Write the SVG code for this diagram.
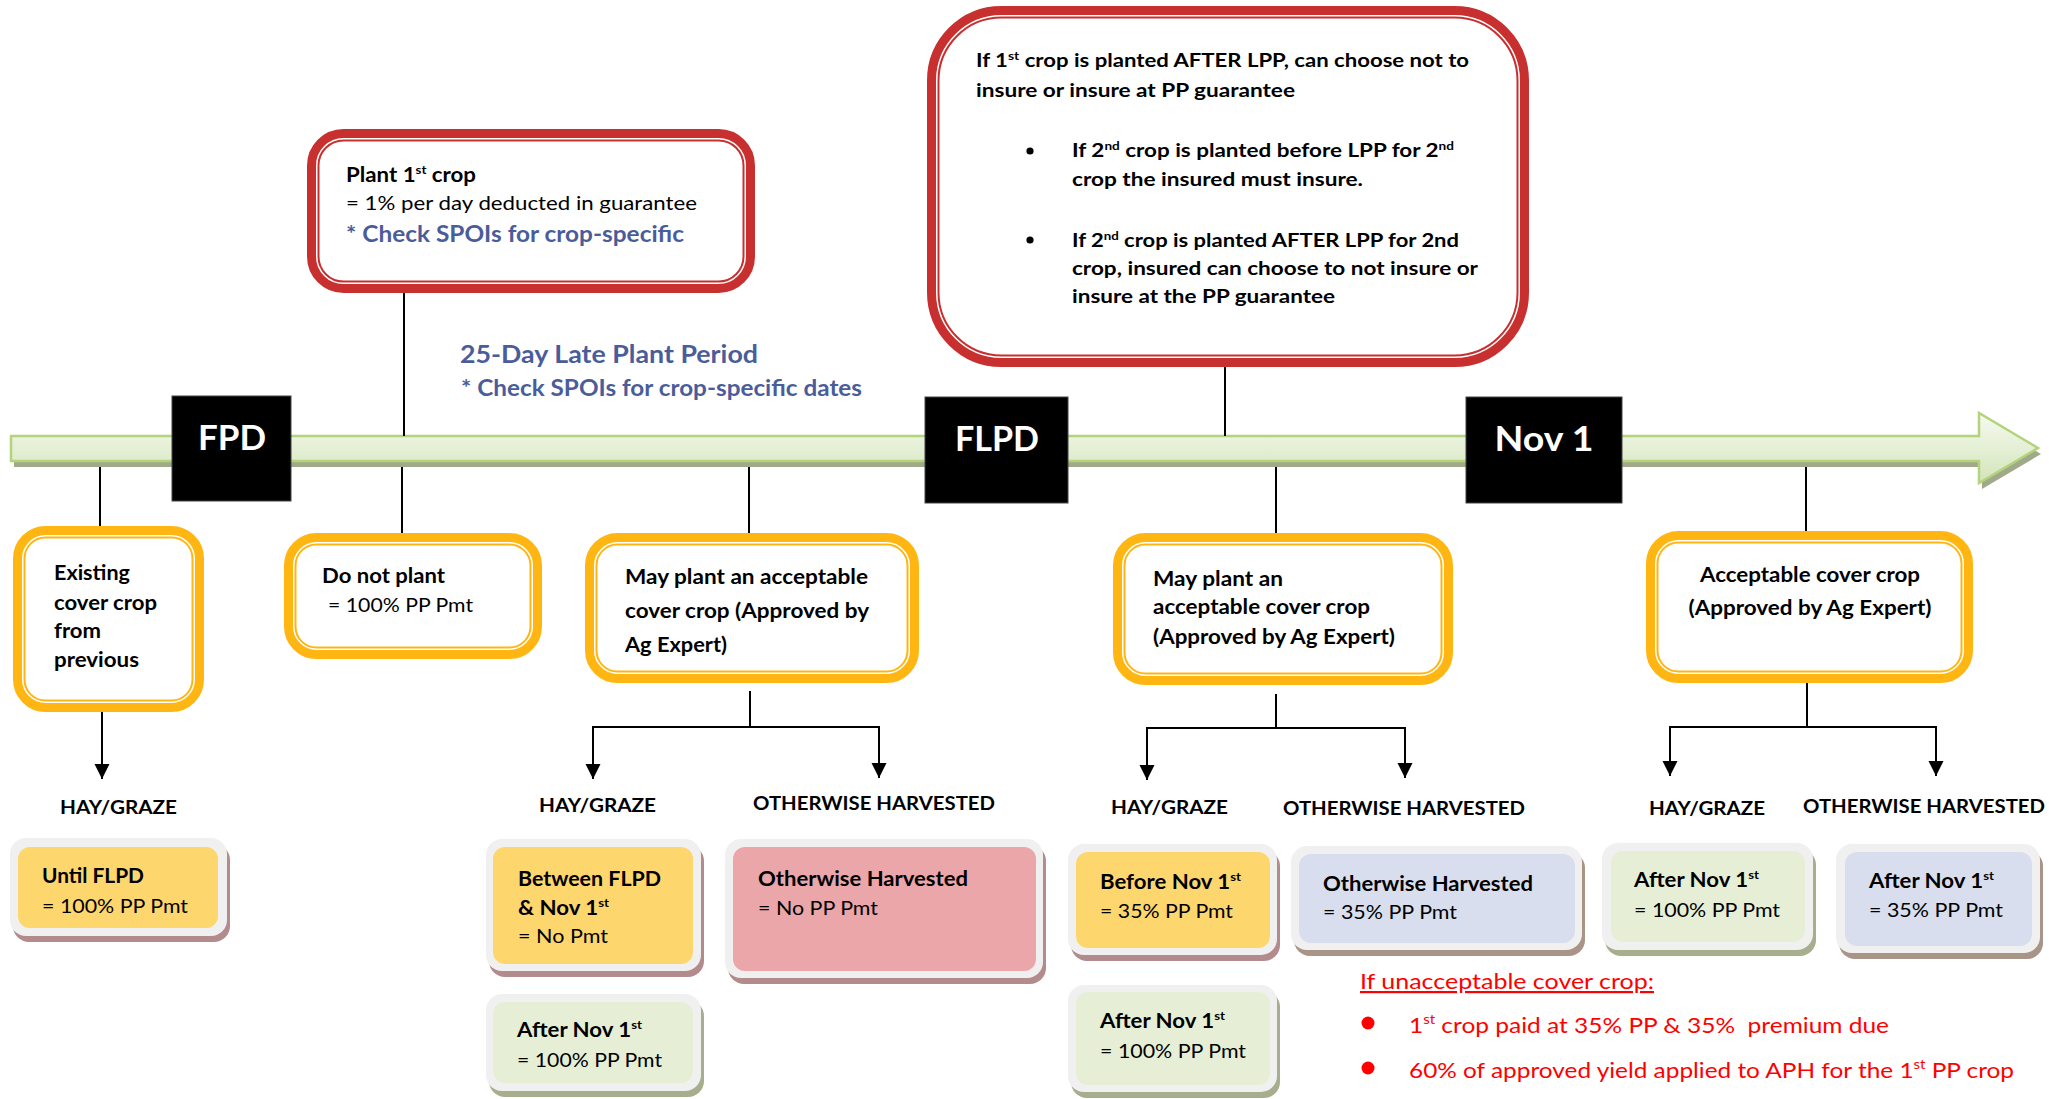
<svg xmlns="http://www.w3.org/2000/svg" width="2049" height="1099" viewBox="0 0 2049 1099">
<style>
text{font-family:Lato,"Open Sans","Liberation Sans",sans-serif;}
.tb{font-weight:700;font-size:20px;fill:#000;}
.tr{font-weight:400;font-size:20px;fill:#000;}
.rb{font-weight:700;font-size:19px;fill:#000;}
.bl{font-weight:700;fill:#4A5D9A;}
.lbl{font-weight:700;font-size:19.5px;fill:#000;}
.rd{font-weight:400;font-size:22px;fill:#FF0000;}
.date{font-weight:700;font-size:35px;fill:#fff;}
.sp{font-size:12px;}
.ob{fill:#fff;stroke:#FFB612;stroke-width:9;}
.oi{fill:none;stroke:#FFB612;stroke-width:2;}
.rb1{fill:#fff;stroke:#C8302F;stroke-width:9;}
.ri{fill:none;stroke:#C8302F;stroke-width:2;}
.frame{fill:#F0F0F0;}
.yel{fill:#FED66E;}
.grn{fill:#E6EFD5;}
.pnk{fill:#EAA6A8;}
.blu{fill:#D9DEEE;}
.shy{fill:#B48B8C;}
.shg{fill:#A7AE8E;}
.shb{fill:#A99588;}
.ln{stroke:#000;stroke-width:2;fill:none;}
.dbox{fill:#000;stroke:#444;stroke-width:1;}
</style>
<defs>
<linearGradient id="tg" gradientUnits="userSpaceOnUse" x1="0" y1="413" x2="0" y2="483">
<stop offset="0" stop-color="#F6FAF0"/>
<stop offset="1" stop-color="#D3E4BA"/>
</linearGradient>
<marker id="ah" viewBox="0 0 10 10" refX="10" refY="5" markerWidth="15" markerHeight="16" markerUnits="userSpaceOnUse" orient="auto">
<path d="M0,0 L10,5 L0,10 Z" fill="#000"/>
</marker>
</defs>

<g id="timeline">
<path d="M11,436 H1979 V413 L2038,448 L1979,483 V461 H11 Z" fill="#A0A98A" transform="translate(3,6)"/>
<path d="M11,436 H1979 V413 L2038,448 L1979,483 V461 H11 Z" fill="url(#tg)" stroke="#B3D47A" stroke-width="2.5"/>
</g>

<g id="connectors">
<line class="ln" x1="100" y1="467" x2="100" y2="526"/>
<line class="ln" x1="102" y1="712" x2="102" y2="779" marker-end="url(#ah)"/>
<line class="ln" x1="404" y1="293" x2="404" y2="436"/>
<line class="ln" x1="402" y1="467" x2="402" y2="533"/>
<line class="ln" x1="749" y1="467" x2="749" y2="533"/>
<path class="ln" d="M750,691 V727 M592,727 H880"/>
<line class="ln" x1="593" y1="727" x2="593" y2="779" marker-end="url(#ah)"/>
<line class="ln" x1="879" y1="727" x2="879" y2="778" marker-end="url(#ah)"/>
<line class="ln" x1="1225" y1="367" x2="1225" y2="436"/>
<line class="ln" x1="1276" y1="467" x2="1276" y2="533"/>
<path class="ln" d="M1276,694 V728 M1146,728 H1406"/>
<line class="ln" x1="1147" y1="728" x2="1147" y2="780" marker-end="url(#ah)"/>
<line class="ln" x1="1405" y1="728" x2="1405" y2="778" marker-end="url(#ah)"/>
<line class="ln" x1="1806" y1="467" x2="1806" y2="531"/>
<path class="ln" d="M1807,683 V727 M1669,727 H1937"/>
<line class="ln" x1="1670" y1="727" x2="1670" y2="776" marker-end="url(#ah)"/>
<line class="ln" x1="1936" y1="727" x2="1936" y2="776" marker-end="url(#ah)"/>
</g>

<g id="fpd">
<rect class="dbox" x="172" y="396" width="119" height="105"/>
<text class="date" x="232" y="450" text-anchor="middle" textLength="68" lengthAdjust="spacingAndGlyphs">FPD</text>
</g>
<g id="flpd">
<rect class="dbox" x="925" y="397" width="143" height="106"/>
<text class="date" x="997" y="451" text-anchor="middle" textLength="84" lengthAdjust="spacingAndGlyphs">FLPD</text>
</g>
<g id="nov1">
<rect class="dbox" x="1466" y="397" width="156" height="106"/>
<text class="date" x="1544" y="451" text-anchor="middle" textLength="99" lengthAdjust="spacingAndGlyphs">Nov 1</text>
</g>

<g id="plant-first">
<rect class="rb1" x="311.5" y="133.5" width="439" height="155" rx="32"/>
<rect class="ri" x="318.5" y="140.5" width="425" height="141" rx="25"/>
<text class="tb" x="346" y="182" textLength="130" lengthAdjust="spacingAndGlyphs">Plant 1<tspan class="sp" dy="-8">st</tspan><tspan dy="8"> crop</tspan></text>
<text class="tr" x="346" y="210" textLength="351" lengthAdjust="spacingAndGlyphs">= 1% per day deducted in guarantee</text>
<text class="bl" x="346" y="242" font-size="23.5" textLength="338" lengthAdjust="spacingAndGlyphs">* Check SPOIs for crop-specific</text>
</g>

<g id="late-plant-period">
<text class="bl" x="460" y="363" font-size="25" textLength="298" lengthAdjust="spacingAndGlyphs">25-Day Late Plant Period</text>
<text class="bl" x="461" y="396" font-size="23" textLength="401" lengthAdjust="spacingAndGlyphs">* Check SPOIs for crop-specific dates</text>
</g>

<g id="after-lpp">
<rect class="rb1" x="931.5" y="10.5" width="593" height="352" rx="70"/>
<rect class="ri" x="938.5" y="17.5" width="579" height="338" rx="63"/>
<text class="rb" x="976" y="67" textLength="493" lengthAdjust="spacingAndGlyphs">If 1<tspan class="sp" font-size="11.5" dy="-7">st</tspan><tspan dy="7"> crop is planted AFTER LPP, can choose not to</tspan></text>
<text class="rb" x="976" y="97" textLength="319" lengthAdjust="spacingAndGlyphs">insure or insure at PP guarantee</text>
<circle cx="1030" cy="151" r="3.6" fill="#000"/>
<text class="rb" x="1072" y="157" textLength="382" lengthAdjust="spacingAndGlyphs">If 2<tspan font-size="11.5" dy="-7">nd</tspan><tspan dy="7"> crop is planted before LPP for 2</tspan><tspan font-size="11.5" dy="-7">nd</tspan></text>
<text class="rb" x="1072" y="186" textLength="291" lengthAdjust="spacingAndGlyphs">crop the insured must insure.</text>
<circle cx="1030" cy="240" r="3.6" fill="#000"/>
<text class="rb" x="1072" y="247" textLength="387" lengthAdjust="spacingAndGlyphs">If 2<tspan font-size="11.5" dy="-7">nd</tspan><tspan dy="7"> crop is planted AFTER LPP for 2nd</tspan></text>
<text class="rb" x="1072" y="275" textLength="406" lengthAdjust="spacingAndGlyphs">crop, insured can choose to not insure or</text>
<text class="rb" x="1072" y="303" textLength="263" lengthAdjust="spacingAndGlyphs">insure at the PP guarantee</text>
</g>

<g id="existing">
<rect class="ob" x="17.5" y="530.5" width="182" height="177" rx="28"/>
<rect class="oi" x="24.5" y="537.5" width="168" height="163" rx="21"/>
<text class="tb" x="54" y="580" textLength="76" lengthAdjust="spacingAndGlyphs">Existing</text>
<text class="tb" x="54" y="610" textLength="103" lengthAdjust="spacingAndGlyphs">cover crop</text>
<text class="tb" x="54" y="638" textLength="47" lengthAdjust="spacingAndGlyphs">from</text>
<text class="tb" x="54" y="667" textLength="85" lengthAdjust="spacingAndGlyphs">previous</text>
</g>

<g id="do-not-plant">
<rect class="ob" x="288.5" y="537.5" width="249" height="117" rx="28"/>
<rect class="oi" x="295.5" y="544.5" width="235" height="103" rx="21"/>
<text class="tb" x="322" y="583" textLength="123" lengthAdjust="spacingAndGlyphs">Do not plant</text>
<text class="tr" x="328" y="612" textLength="145" lengthAdjust="spacingAndGlyphs">= 100% PP Pmt</text>
</g>

<g id="may-plant-1">
<rect class="ob" x="589.5" y="537.5" width="325" height="141" rx="28"/>
<rect class="oi" x="596.5" y="544.5" width="311" height="127" rx="21"/>
<text class="tb" x="625" y="584" textLength="243" lengthAdjust="spacingAndGlyphs">May plant an acceptable</text>
<text class="tb" x="625" y="618" textLength="244" lengthAdjust="spacingAndGlyphs">cover crop (Approved by</text>
<text class="tb" x="625" y="652" textLength="102" lengthAdjust="spacingAndGlyphs">Ag Expert)</text>
</g>

<g id="may-plant-2">
<rect class="ob" x="1117.5" y="537.5" width="331" height="143" rx="28"/>
<rect class="oi" x="1124.5" y="544.5" width="317" height="129" rx="21"/>
<text class="tb" x="1153" y="586" textLength="130" lengthAdjust="spacingAndGlyphs">May plant an</text>
<text class="tb" x="1153" y="614" textLength="217" lengthAdjust="spacingAndGlyphs">acceptable cover crop</text>
<text class="tb" x="1153" y="644" textLength="242" lengthAdjust="spacingAndGlyphs">(Approved by Ag Expert)</text>
</g>

<g id="acceptable">
<rect class="ob" x="1650.5" y="535.5" width="318" height="143" rx="28"/>
<rect class="oi" x="1657.5" y="542.5" width="304" height="129" rx="21"/>
<text class="tb" x="1810" y="582" text-anchor="middle" textLength="220" lengthAdjust="spacingAndGlyphs">Acceptable cover crop</text>
<text class="tb" x="1810" y="615" text-anchor="middle" textLength="243" lengthAdjust="spacingAndGlyphs">(Approved by Ag Expert)</text>
</g>

<g id="labels">
<text class="lbl" x="60" y="814" textLength="117" lengthAdjust="spacingAndGlyphs">HAY/GRAZE</text>
<text class="lbl" x="539" y="812" textLength="117" lengthAdjust="spacingAndGlyphs">HAY/GRAZE</text>
<text class="lbl" x="753" y="810" textLength="242" lengthAdjust="spacingAndGlyphs">OTHERWISE HARVESTED</text>
<text class="lbl" x="1111" y="814" textLength="117" lengthAdjust="spacingAndGlyphs">HAY/GRAZE</text>
<text class="lbl" x="1283" y="815" textLength="242" lengthAdjust="spacingAndGlyphs">OTHERWISE HARVESTED</text>
<text class="lbl" x="1649" y="815" textLength="116" lengthAdjust="spacingAndGlyphs">HAY/GRAZE</text>
<text class="lbl" x="1803" y="813" textLength="242" lengthAdjust="spacingAndGlyphs">OTHERWISE HARVESTED</text>
</g>

<g id="until-flpd">
<rect class="shy" x="13" y="844" width="217" height="98" rx="16"/>
<rect class="frame" x="10" y="838" width="217" height="98" rx="16"/>
<rect class="yel" x="18" y="847" width="200" height="81" rx="12"/>
<text class="tb" x="42" y="883" textLength="102" lengthAdjust="spacingAndGlyphs">Until FLPD</text>
<text class="tr" x="42" y="913" textLength="146" lengthAdjust="spacingAndGlyphs">= 100% PP Pmt</text>
</g>

<g id="between-flpd-nov1">
<rect class="shy" x="489" y="845" width="215" height="132" rx="16"/>
<rect class="frame" x="486" y="839" width="215" height="132" rx="16"/>
<rect class="yel" x="493" y="847" width="200" height="117" rx="12"/>
<text class="tb" x="518" y="886" textLength="143" lengthAdjust="spacingAndGlyphs">Between FLPD</text>
<text class="tb" x="518" y="915" textLength="91" lengthAdjust="spacingAndGlyphs">&amp; Nov 1<tspan class="sp" dy="-8">st</tspan></text>
<text class="tr" x="518" y="943" textLength="90" lengthAdjust="spacingAndGlyphs">= No Pmt</text>
</g>

<g id="after-nov1-left">
<rect class="shg" x="489" y="1000" width="215" height="97" rx="16"/>
<rect class="frame" x="486" y="994" width="215" height="97" rx="16"/>
<rect class="grn" x="493" y="1002" width="200" height="81" rx="12"/>
<text class="tb" x="517" y="1037" textLength="125" lengthAdjust="spacingAndGlyphs">After Nov 1<tspan class="sp" dy="-8">st</tspan></text>
<text class="tr" x="517" y="1067" textLength="145" lengthAdjust="spacingAndGlyphs">= 100% PP Pmt</text>
</g>

<g id="otherwise-harvested-no">
<rect class="shy" x="728" y="845" width="318" height="139" rx="16"/>
<rect class="frame" x="725" y="839" width="318" height="139" rx="16"/>
<rect class="pnk" x="733" y="847" width="303" height="124" rx="12"/>
<text class="tb" x="758" y="886" textLength="210" lengthAdjust="spacingAndGlyphs">Otherwise Harvested</text>
<text class="tr" x="758" y="915" textLength="120" lengthAdjust="spacingAndGlyphs">= No PP Pmt</text>
</g>

<g id="before-nov1">
<rect class="shy" x="1071" y="850" width="209" height="111" rx="16"/>
<rect class="frame" x="1068" y="844" width="209" height="111" rx="16"/>
<rect class="yel" x="1076" y="852" width="194" height="96" rx="12"/>
<text class="tb" x="1100" y="889" textLength="141" lengthAdjust="spacingAndGlyphs">Before Nov 1<tspan class="sp" dy="-8">st</tspan></text>
<text class="tr" x="1100" y="918" textLength="133" lengthAdjust="spacingAndGlyphs">= 35% PP Pmt</text>
</g>

<g id="after-nov1-mid">
<rect class="shg" x="1071" y="991" width="209" height="107" rx="16"/>
<rect class="frame" x="1068" y="985" width="209" height="107" rx="16"/>
<rect class="grn" x="1076" y="992" width="194" height="93" rx="12"/>
<text class="tb" x="1100" y="1028" textLength="125" lengthAdjust="spacingAndGlyphs">After Nov 1<tspan class="sp" dy="-8">st</tspan></text>
<text class="tr" x="1100" y="1058" textLength="146" lengthAdjust="spacingAndGlyphs">= 100% PP Pmt</text>
</g>

<g id="otherwise-harvested-35">
<rect class="shb" x="1294" y="852" width="291" height="104" rx="16"/>
<rect class="frame" x="1291" y="846" width="291" height="104" rx="16"/>
<rect class="blu" x="1299" y="854" width="276" height="89" rx="12"/>
<text class="tb" x="1323" y="891" textLength="210" lengthAdjust="spacingAndGlyphs">Otherwise Harvested</text>
<text class="tr" x="1323" y="919" textLength="134" lengthAdjust="spacingAndGlyphs">= 35% PP Pmt</text>
</g>

<g id="after-nov1-right-green">
<rect class="shg" x="1605" y="849" width="211" height="107" rx="16"/>
<rect class="frame" x="1602" y="843" width="211" height="107" rx="16"/>
<rect class="grn" x="1611" y="851" width="194" height="91" rx="12"/>
<text class="tb" x="1634" y="887" textLength="125" lengthAdjust="spacingAndGlyphs">After Nov 1<tspan class="sp" dy="-8">st</tspan></text>
<text class="tr" x="1634" y="917" textLength="146" lengthAdjust="spacingAndGlyphs">= 100% PP Pmt</text>
</g>

<g id="after-nov1-right-blue">
<rect class="shb" x="1839" y="850" width="204" height="109" rx="16"/>
<rect class="frame" x="1836" y="844" width="204" height="109" rx="16"/>
<rect class="blu" x="1845" y="852" width="187" height="94" rx="12"/>
<text class="tb" x="1869" y="888" textLength="125" lengthAdjust="spacingAndGlyphs">After Nov 1<tspan class="sp" dy="-8">st</tspan></text>
<text class="tr" x="1869" y="917" textLength="134" lengthAdjust="spacingAndGlyphs">= 35% PP Pmt</text>
</g>

<g id="unacceptable-note">
<text class="rd" x="1360" y="989" text-decoration="underline" textLength="294" lengthAdjust="spacingAndGlyphs">If unacceptable cover crop:</text>
<circle cx="1368" cy="1023" r="6.5" fill="#FF0000"/>
<text class="rd" x="1409" y="1033" textLength="480" lengthAdjust="spacingAndGlyphs">1<tspan font-size="13.5" dy="-9">st</tspan><tspan dy="9"> crop paid at 35% PP &amp; 35%&#160; premium due</tspan></text>
<circle cx="1368" cy="1068" r="6.5" fill="#FF0000"/>
<text class="rd" x="1409" y="1078" textLength="605" lengthAdjust="spacingAndGlyphs">60% of approved yield applied to APH for the 1<tspan font-size="13.5" dy="-9">st</tspan><tspan dy="9"> PP crop</tspan></text>
</g>
</svg>
